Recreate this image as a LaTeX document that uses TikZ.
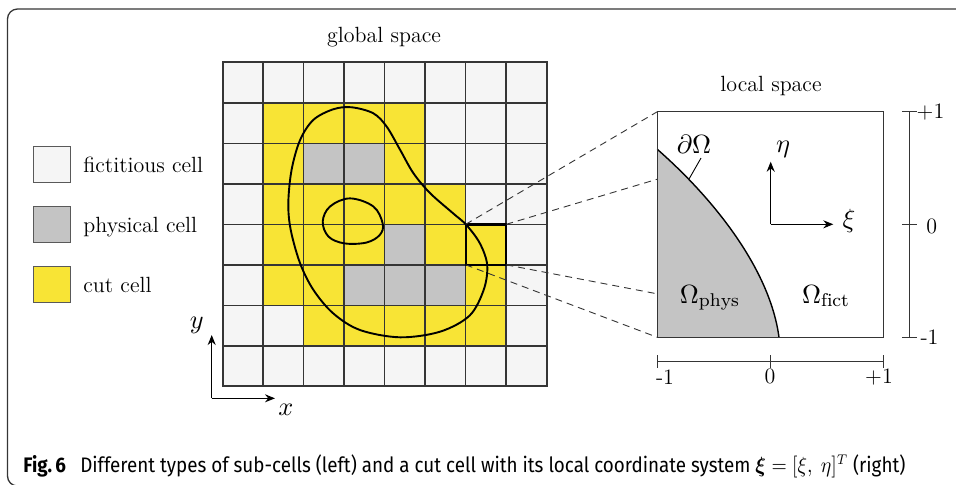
\documentclass[tikz,border=0pt]{standalone}
\usepackage{fontspec}
\usepackage{amsmath,bm}
\newfontfamily\capfont{Fira Sans}
\usetikzlibrary{arrows.meta}
\definecolor{fict}{HTML}{F5F5F5}
\definecolor{phys}{HTML}{C4C4C4}
\definecolor{cut}{HTML}{F8E435}
\definecolor{gridc}{HTML}{353535}
\tikzset{
  gridline/.style={draw=gridc, line width=0.75pt},
  contour/.style={draw=black, line width=0.95pt},
  dashconn/.style={draw=gridc, line width=0.45pt, dash pattern=on 3.5pt off 2.5pt},
  axarrow/.style={draw=black, line width=0.5pt, -{Stealth[length=5pt,width=4pt]}},
  legbox/.style={draw=gray!70!black, line width=0.5pt},
  lbl/.style={inner sep=0pt},
  mlbl/.style={inner sep=0pt, scale=1.2, transform shape},
  scaleline/.style={draw=gridc, line width=0.5pt}
}
\begin{document}
\begin{tikzpicture}[x=0.5pt,y=-0.5pt,font=\fontsize{11}{13}\selectfont]
\useasboundingbox (0,0) rectangle (956,484);
\clip (0,0) rectangle (956,484);
% frame
\draw[draw=gridc, line width=0.65pt, rounded corners=5pt] (7.5,9) rectangle (1000,486);

% titles
\node[lbl, anchor=base] (gs) at (384,42) {global space};
\node[lbl, anchor=base] (ls) at (771,91) {local space};

% legend
\fill[fict] (33.3,146) rectangle (70,182.3);
\draw[legbox] (33.3,146) rectangle (70,182.3);
\fill[phys] (33.3,206) rectangle (70,242.3);
\draw[legbox] (33.3,206) rectangle (70,242.3);
\fill[cut] (33.3,266) rectangle (70,302.3);
\draw[legbox] (33.3,266) rectangle (70,302.3);
\node[lbl, anchor=base west] (l1) at (83,172) {fictitious cell};
\node[lbl, anchor=base west] (l2) at (83,232) {physical cell};
\node[lbl, anchor=base west] (l3) at (83,292) {cut cell};

% global grid
\begin{scope}[shift={(222.7,386.3)}, x=20.25pt, y=20.25pt]
  \fill[fict] (0,0) rectangle (8,8);
  \foreach \c/\r in {1/6,2/6,3/6,4/6, 1/5,4/5, 1/4,2/4,3/4,4/4,5/4, 1/3,2/3,3/3,5/3,6/3, 1/2,2/2,6/2, 2/1,3/1,4/1,5/1,6/1}
    \fill[cut] (\c,\r) rectangle ++(1,1);
  \foreach \c/\r in {2/5,3/5, 4/3, 3/2,4/2,5/2}
    \fill[phys] (\c,\r) rectangle ++(1,1);
  \foreach \i in {1,...,7} {
    \draw[gridline] (\i,0) -- (\i,8);
    \draw[gridline] (0,\i) -- (8,\i);
  }
  \draw[gridline, line width=0.9pt] (0,0) rectangle (8,8);
  \draw[contour] plot[smooth cycle, tension=0.55] coordinates {
    (3.18,6.89) (3.72,6.74) (4.05,6.41) (4.38,5.84) (4.71,5.26) (5.12,4.77)
    (5.69,4.27) (6.02,3.98) (6.35,3.53) (6.53,3.0) (6.45,2.4) (6.1,1.75)
    (5.37,1.35) (4.38,1.21) (3.39,1.39) (2.73,1.80) (2.24,2.38) (1.91,3.04)
    (1.68,3.86) (1.62,4.52) (1.70,5.34) (1.91,6.08) (2.24,6.58) (2.73,6.84)};
  \draw[contour] plot[smooth cycle, tension=0.6] coordinates {
    (2.47,4.07) (2.65,4.44) (3.14,4.64) (3.72,4.44) (3.95,4.02) (3.88,3.74)
    (3.55,3.55) (3.0,3.53) (2.61,3.70)};
  \draw[draw=black, line width=1.2pt] (6,3) rectangle (7,4);
  \coordinate (cTL) at (6,4);
  \coordinate (cTR) at (7,4);
  \coordinate (cBL) at (6,3);
  \coordinate (cBR) at (7,3);
\end{scope}

% global axes
\coordinate (go) at (211.7,398.3);
\coordinate (gy) at (211.7,335);
\coordinate (gx) at (275,398.3);
\draw[axarrow] (go) -- (gy);
\draw[axarrow] (go) -- (gx);
\node[mlbl] (ylab) at (196.7,325) {$y$};
\node[mlbl] (xlab) at (286,410) {$x$};

% local box corners
\coordinate (bTL) at (657.3,111.7);
\coordinate (bTR) at (883.3,111.7);
\coordinate (bBL) at (657.3,337.3);
\coordinate (bBR) at (883.3,337.3);

% dashed connectors
\draw[dashconn] (cTL) -- (bTL);
\draw[dashconn] (cTR) -- (bTR);
\draw[dashconn] (cBL) -- (bBL);
\draw[dashconn] (cBR) -- (bBR);

% local cell
\fill[white] (bTL) rectangle (bBR);
\coordinate (kS) at (657.3,149.3);
\coordinate (kE) at (779,337.3);
\fill[phys] (bBL) -- (kS) .. controls (715,200) and (770,270) .. (kE) -- cycle;
\draw[draw=black, line width=0.7pt] (kS) .. controls (715,200) and (770,270) .. (kE);
\draw[gridline] (bTL) rectangle (bBR);
\coordinate (dA) at (701,158);
\coordinate (dB) at (689,179);
\draw[draw=black, line width=0.45pt] (dA) -- (dB);
\node[mlbl, anchor=base] (dom) at (694,153) {$\partial\Omega$};
\node[mlbl, anchor=base] (ophys) at (710,303) {$\Omega_{\mathrm{phys}}$};
\node[mlbl, anchor=base] (ofict) at (826,303) {$\Omega_{\mathrm{fict}}$};

% local axes
\coordinate (lo) at (770.7,224.3);
\coordinate (ly) at (770.7,161.7);
\coordinate (lx) at (833.3,224.3);
\draw[axarrow] (lo) -- (ly);
\draw[axarrow] (lo) -- (lx);
\node[mlbl] (etal) at (783,149) {$\eta$};
\node[mlbl] (xil) at (849,221) {$\xi$};

% right scale
\coordinate (rT) at (909.3,111.7);
\coordinate (rM) at (909.3,224.5);
\coordinate (rB) at (909.3,337.3);
\draw[scaleline] (rT) -- (rB);
\draw[scaleline] ([xshift=-3.75pt]rT) -- ([xshift=3.75pt]rT);
\draw[scaleline] ([xshift=-3.75pt]rM) -- ([xshift=3.75pt]rM);
\draw[scaleline] ([xshift=-3.75pt]rB) -- ([xshift=3.75pt]rB);
\node[lbl] (rp1) at (930.5,112) {+1};
\node[lbl] (r0) at (931.7,226.7) {0};
\node[lbl] (rm1) at (929.5,337.3) {-1};

% bottom scale
\coordinate (sL) at (657.3,361.7);
\coordinate (sM) at (770.3,361.7);
\coordinate (sR) at (883.3,361.7);
\draw[scaleline] (sL) -- (sR);
\draw[scaleline] ([yshift=3.25pt]sL) -- ([yshift=-3.25pt]sL);
\draw[scaleline] ([yshift=3.25pt]sM) -- ([yshift=-3.25pt]sM);
\draw[scaleline] ([yshift=3.25pt]sR) -- ([yshift=-3.25pt]sR);
\node[lbl] (bm1) at (665,377) {-1};
\node[lbl] (b0) at (770,376) {0};
\node[lbl] (bp1) at (879,377) {+1};

% caption
\node[lbl, anchor=base west] (cap) at (23,472) {\capfont\resizebox{441pt}{\height}{\fontsize{10.5}{12}\selectfont\textbf{Fig.\,6}\hspace{8pt}Different types of sub-cells (left) and a cut cell with its local coordinate system $\bm{\xi}=[\xi,\ \eta]^T$ (right)}};
\end{tikzpicture}
\end{document}
